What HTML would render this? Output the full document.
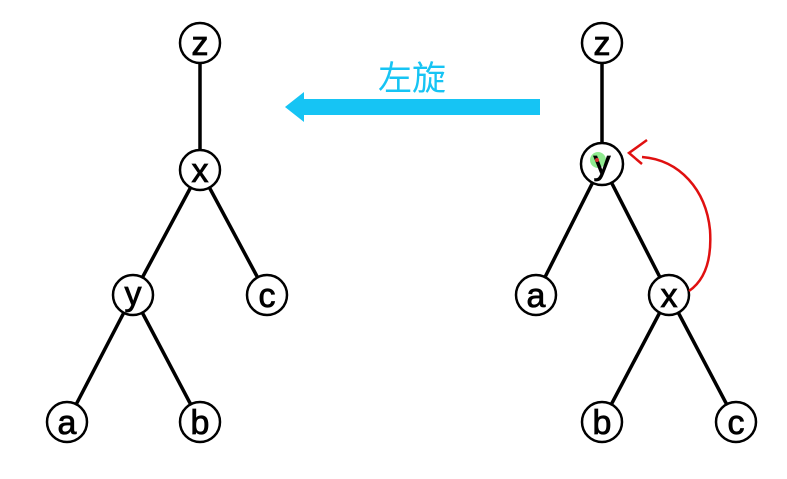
<!DOCTYPE html>
<html><head><meta charset="utf-8"><style>body{margin:0;background:#fff}</style></head><body>
<svg width="787" height="474" viewBox="0 0 787 474" xmlns="http://www.w3.org/2000/svg">
<g stroke="#000" stroke-width="3.5" fill="none">
<line x1="200" y1="43" x2="200" y2="170"/>
<line x1="200" y1="170" x2="133" y2="295"/>
<line x1="200" y1="170" x2="267" y2="295"/>
<line x1="133" y1="295" x2="67" y2="422"/>
<line x1="133" y1="295" x2="200" y2="422"/>
<line x1="602" y1="43" x2="602" y2="164"/>
<line x1="602" y1="164" x2="536" y2="295"/>
<line x1="602" y1="164" x2="669" y2="295"/>
<line x1="669" y1="295" x2="602" y2="422"/>
<line x1="669" y1="295" x2="736" y2="422"/>
</g>
<g stroke="#000" stroke-width="2.5" fill="#fff">
<circle cx="200" cy="43" r="20"/><circle cx="200" cy="170" r="20"/>
<circle cx="133" cy="295" r="20"/><circle cx="267" cy="295" r="20"/>
<circle cx="67" cy="422" r="20"/><circle cx="200" cy="422" r="20"/>
<circle cx="602" cy="43" r="20"/>
<circle cx="536" cy="295" r="20"/><circle cx="669" cy="295" r="20"/>
<circle cx="602" cy="422" r="20"/><circle cx="736" cy="422" r="20"/>
<circle cx="602" cy="164" r="21"/>
</g>
<circle cx="598" cy="160" r="8" fill="#5fe05f" opacity="0.7"/>
<g font-family="Liberation Sans, sans-serif" font-size="34" text-anchor="middle" fill="#000" stroke="#000" stroke-width="0.8">
<text x="200" y="55">z</text><text x="200" y="182">x</text>
<text x="133" y="305">y</text><text x="267" y="307">c</text>
<text x="67" y="434">a</text><text x="200" y="434">b</text>
<text x="602" y="55">z</text><text x="602" y="174">y</text>
<text x="536" y="307">a</text><text x="669" y="307">x</text>
<text x="602" y="434">b</text><text x="736" y="434">c</text>
</g>
<circle cx="597" cy="160" r="2" fill="#d33"/>
<path d="M689,291 C705,280 712,260 710,230 C706,190 680,160 642,157" stroke="#e01010" stroke-width="2.5" fill="none"/>
<path d="M647,140 L629,153 L642,164" stroke="#e01010" stroke-width="2.5" fill="none"/>
<rect x="300" y="99" width="240" height="16" fill="#16c4f4"/>
<polygon points="285,107 304,92 304,122" fill="#16c4f4"/>
<text x="412" y="90" font-family="Liberation Sans, Noto Sans CJK SC, sans-serif" font-size="34" fill="#16c4f4" text-anchor="middle">左旋</text>
</svg>
</body></html>
